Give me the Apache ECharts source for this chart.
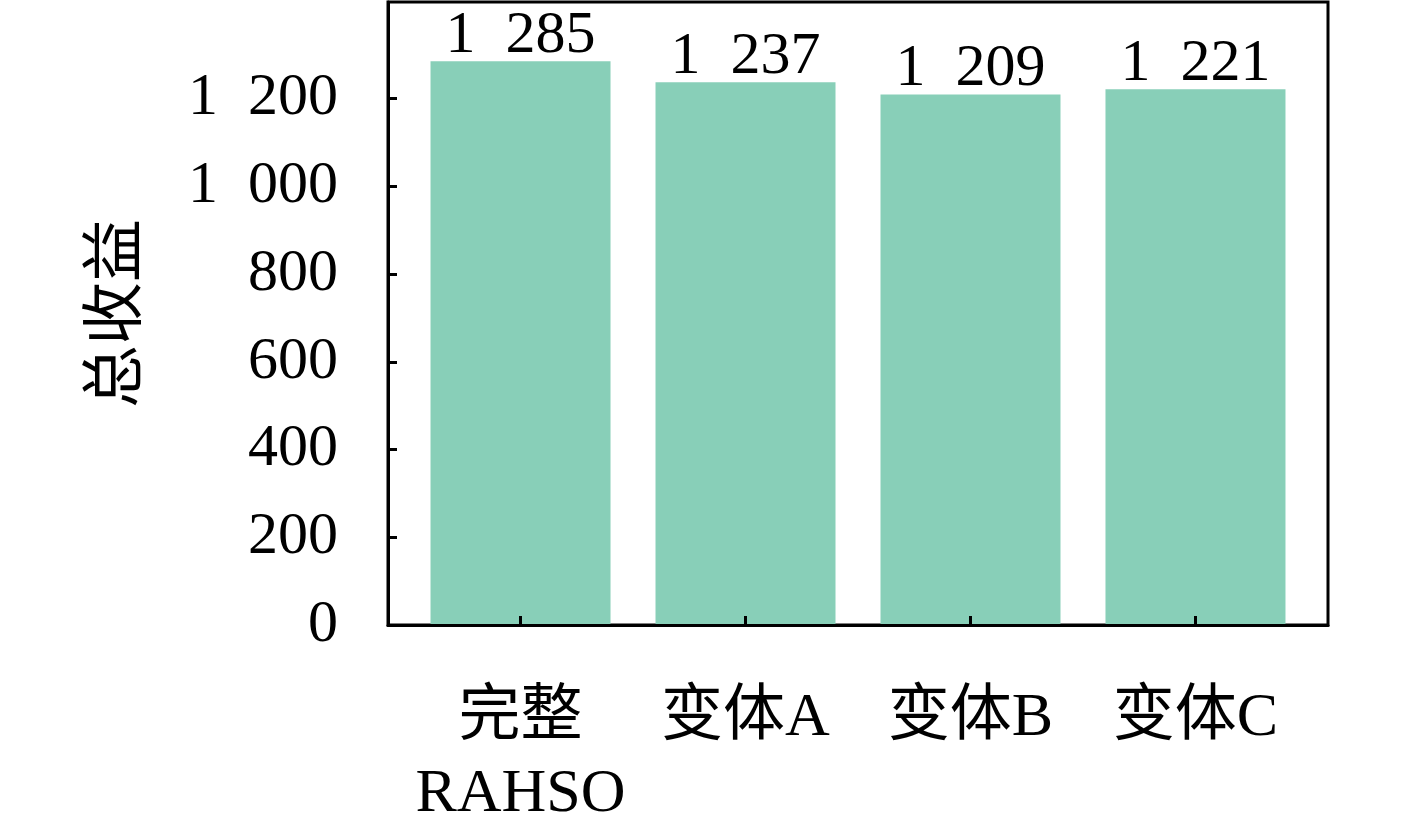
<!DOCTYPE html>
<html>
<head>
<meta charset="utf-8">
<script src="https://cdn.jsdelivr.net/npm/echarts@6/dist/echarts.min.js"></script>
<style>html,body{margin:0;padding:0;background:#fff}#c{width:1417px;height:833px}</style>
</head>
<body>
<div id="c"></div>
<script>
const categories = ['完整\nRAHSO', '变体A', '变体B', '变体C'];
const values = [1285, 1237, 1209, 1221];
const yTicks = [0, 200, 400, 600, 800, 1000, 1200];
const yName = '总收益';

const FONT = "'Liberation Serif', 'Noto Sans CJK SC', serif";
function fmt(v) {
  const s = String(Math.round(v));
  return s.replace(/\B(?=(\d{3})+(?!\d))/g, '\u2002');
}
const xIdx = categories.map((c, i) => i);
const chart = echarts.init(document.getElementById('c'));
chart.setOption({
  animation: false,
  grid: { left: 388, right: 89, top: 2, bottom: 207, show: true, borderColor: '#000', borderWidth: 3, backgroundColor: 'transparent' },
  xAxis: {
    type: 'value', min: -0.589, max: 3.589, z: 10,
    splitLine: { show: false },
    axisLine: { show: true, onZero: false, lineStyle: { color: '#000', width: 3 } },
    axisTick: { show: true, inside: true, length: 9, lineStyle: { color: '#000', width: 3 }, customValues: xIdx },
    axisLabel: { customValues: xIdx, formatter: v => categories[Math.round(v)], fontFamily: FONT, fontSize: 62, color: '#000', margin: 56, lineHeight: 76 }
  },
  yAxis: {
    type: 'value', min: 0, max: 1420, z: 10,
    name: yName, nameLocation: 'middle', nameRotate: 90, nameGap: 238,
    nameTextStyle: { fontFamily: FONT, fontSize: 63, color: '#000' },
    splitLine: { show: false },
    axisLine: { show: true, onZero: false, lineStyle: { color: '#000', width: 3 } },
    axisTick: { show: true, inside: true, length: 9, lineStyle: { color: '#000', width: 3 }, customValues: yTicks },
    axisLabel: { customValues: yTicks, formatter: v => fmt(v), fontFamily: FONT, fontSize: 60, color: '#000', margin: 50 }
  },
  series: [{
    type: 'bar',
    data: values.map((v, i) => [i, v]),
    barWidth: 180,
    itemStyle: { color: '#88CFB8' },
    label: { show: true, position: 'top', distance: -5, formatter: p => fmt(p.value[1]), fontFamily: FONT, fontSize: 60, color: '#000' }
  }]
});
</script>
</body>
</html>
